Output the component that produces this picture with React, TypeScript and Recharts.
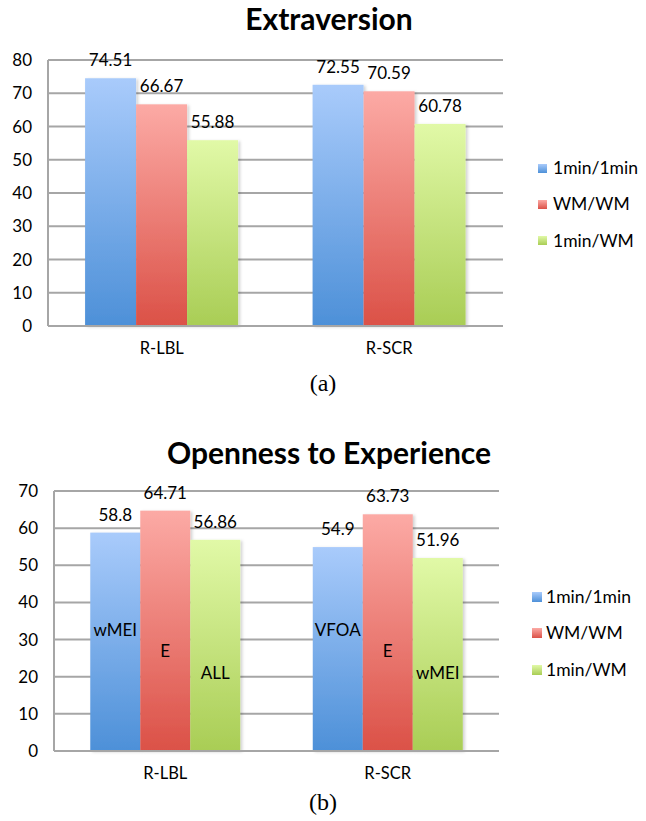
import React from 'react';
import { BarChart, Bar, XAxis, YAxis, CartesianGrid, LabelList, Legend } from 'recharts';

const categories = ['R-LBL', 'R-SCR'];
const seriesNames = ['1min/1min', 'WM/WM', '1min/WM'];

const extraversion1min1min = [74.51, 72.55];
const extraversionWMWM = [66.67, 70.59];
const extraversion1minWM = [55.88, 60.78];
const extraversionTicks = [0, 10, 20, 30, 40, 50, 60, 70, 80];

const openness1min1min = [58.8, 54.9];
const opennessWMWM = [64.71, 63.73];
const openness1minWM = [56.86, 51.96];
const opennessTicks = [0, 10, 20, 30, 40, 50, 60, 70];

const opennessTags1min1min = ['wMEI', 'VFOA'];
const opennessTagsWMWM = ['E', 'E'];
const opennessTags1minWM = ['ALL', 'wMEI'];

const FONT = 'Lato, "Open Sans", sans-serif';
const GRID = '#a6a6a6';
const TXT = 17;

const gradients = [
  { top: '#a9cbfb', bottom: '#4d90d8' },
  { top: '#fcaaa5', bottom: '#db5147' },
  { top: '#e1f9a7', bottom: '#a9cd55' },
];

function buildRows(a: number[], b: number[], c: number[], ta?: string[], tb?: string[], tc?: string[]) {
  return categories.map((cat, i) => ({
    cat,
    s0: a[i],
    s1: b[i],
    s2: c[i],
    t0: ta ? ta[i] : '',
    t1: tb ? tb[i] : '',
    t2: tc ? tc[i] : '',
  }));
}

const extraversionRows = buildRows(extraversion1min1min, extraversionWMWM, extraversion1minWM);
const opennessRows = buildRows(
  openness1min1min, opennessWMWM, openness1minWM,
  opennessTags1min1min, opennessTagsWMWM, opennessTags1minWM
);

const makeLegend = (squareSize: number, gap: number) => () => (
  <div style={{ fontFamily: FONT, fontSize: 17.5, color: '#000' }}>
    {seriesNames.map((n, i) => (
      <div key={n} style={{ display: 'flex', alignItems: 'center', height: 20, marginBottom: 16.3 }}>
        <div
          style={{
            width: squareSize,
            height: squareSize,
            background: `linear-gradient(${gradients[i].top}, ${gradients[i].bottom})`,
            marginRight: gap,
          }}
        />
        <span style={{ lineHeight: '20px' }}>{n}</span>
      </div>
    ))}
  </div>
);

const innerLabel = (fromBottom: number) => (props: any) => {
  const { x, y, width, height, value } = props;
  if (!value) return null;
  return (
    <text
      x={x + width / 2}
      y={y + height - fromBottom}
      textAnchor="middle"
      dominantBaseline="central"
      fontFamily={FONT}
      fontSize={TXT}
      fill="#000"
    >
      {value}
    </text>
  );
};

const shadowShape = (pid: string) => (props: any) => {
  const { x, y, width, height, fill } = props;
  return <rect x={x} y={y} width={width} height={height} fill={fill} filter={`url(#${pid}-sh)`} />;
};

type PanelProps = {
  pid: string;
  rows: any[];
  ticks: number[];
  max: number;
  top: number;
  height: number;
  marginTop: number;
  marginRight: number;
  yAxisWidth: number;
  legendLeft: number;
  legendTop: number;
  squareSize: number;
  squareGap: number;
  withTags: boolean;
};

function Panel(p: PanelProps) {
  const Content = makeLegend(p.squareSize, p.squareGap);
  return (
    <div style={{ position: 'absolute', left: 0, top: p.top }}>
      <BarChart
        width={646}
        height={p.height}
        data={p.rows}
        margin={{ top: p.marginTop, right: p.marginRight, left: 0, bottom: 4 }}
        barCategoryGap="16.3%"
        barGap={0}
      >
        <defs>
          {gradients.map((g, i) => (
            <linearGradient key={i} id={`${p.pid}-g${i}`} x1="0" y1="0" x2="0" y2="1">
              <stop offset="0%" stopColor={g.top} />
              <stop offset="100%" stopColor={g.bottom} />
            </linearGradient>
          ))}
          <filter id={`${p.pid}-sh`} x="-10%" y="-5%" width="125%" height="110%">
            <feDropShadow dx="2" dy="1" stdDeviation="1.5" floodColor="#000" floodOpacity="0.18" />
          </filter>
        </defs>
        <CartesianGrid vertical={false} stroke={GRID} strokeWidth={2} />
        <XAxis
          dataKey="cat"
          height={30}
          tickLine={false}
          tickSize={0}
          tickMargin={16}
          axisLine={{ stroke: GRID, strokeWidth: 2 }}
          tick={{ fontFamily: FONT, fontSize: 16.5, fill: '#000' }}
        />
        <YAxis
          width={p.yAxisWidth}
          domain={[0, p.max]}
          ticks={p.ticks}
          interval={0}
          tickLine={false}
          tickSize={0}
          tickMargin={16}
          axisLine={{ stroke: GRID, strokeWidth: 2 }}
          tick={{ fontFamily: FONT, fontSize: TXT, fill: '#000' }}
        />
        <Legend
          layout="horizontal"
          verticalAlign="middle"
          content={Content}
          wrapperStyle={{ left: p.legendLeft, top: p.legendTop, width: 110, height: 110 }}
        />
        {[0, 1, 2].map((i) => (
          <Bar
            key={i}
            dataKey={`s${i}`}
            name={seriesNames[i]}
            fill={`url(#${p.pid}-g${i})`}
            isAnimationActive={false}
            shape={shadowShape(p.pid)}
          >
            <LabelList
              dataKey={`s${i}`}
              position="top"
              offset={12}
              style={{ fontFamily: FONT, fontSize: TXT, fill: '#000' }}
            />
            {p.withTags && (
              <LabelList dataKey={`t${i}`} content={innerLabel([122, 101, 79][i])} />
            )}
          </Bar>
        ))}
      </BarChart>
    </div>
  );
}

const titleStyle: React.CSSProperties = {
  position: 'absolute',
  left: 0,
  width: 658,
  textAlign: 'center',
  fontFamily: FONT,
  fontWeight: 700,
  fontSize: 30,
  lineHeight: '30px',
  color: '#000',
};

const captionStyle: React.CSSProperties = {
  position: 'absolute',
  left: 0,
  width: 646,
  textAlign: 'center',
  fontFamily: '"Liberation Serif", "DejaVu Serif", serif',
  fontSize: 24,
  lineHeight: '24px',
  color: '#000',
};

export default function App() {
  return (
    <div style={{ position: 'absolute', left: 0, top: 0, width: 646, height: 821, background: '#fff', overflow: 'hidden' }}>
      <div style={{ ...titleStyle, top: 3 }}>Extraversion</div>
      <Panel
        pid="a"
        rows={extraversionRows}
        ticks={extraversionTicks}
        max={80}
        top={0}
        height={360}
        marginTop={60}
        marginRight={143}
        yAxisWidth={48}
        legendLeft={538}
        legendTop={158}
        squareSize={9}
        squareGap={6}
        withTags={false}
      />
      <div style={{ ...captionStyle, top: 371 }}>(a)</div>

      <div style={{ ...titleStyle, top: 437 }}>Openness to Experience</div>
      <Panel
        pid="b"
        rows={opennessRows}
        ticks={opennessTicks}
        max={70}
        top={420}
        height={365}
        marginTop={71}
        marginRight={147}
        yAxisWidth={54}
        legendLeft={532}
        legendTop={167}
        squareSize={10}
        squareGap={4}
        withTags={true}
      />
      <div style={{ ...captionStyle, top: 790 }}>(b)</div>
    </div>
  );
}
